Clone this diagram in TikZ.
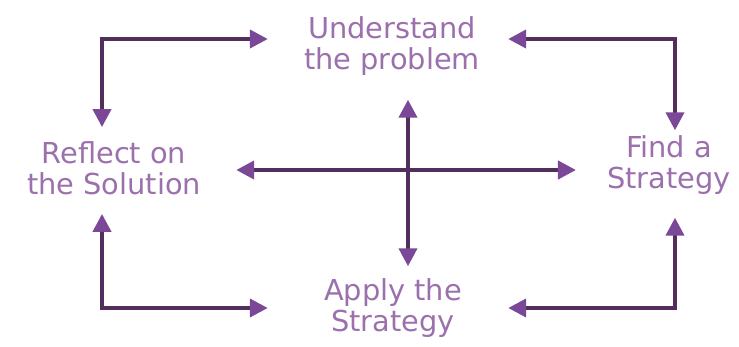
\documentclass[tikz,border=0pt]{standalone}
\usepackage{fontspec}
\setmainfont{DejaVu Sans}
\usetikzlibrary{arrows.meta}
\definecolor{wordlilac}{RGB}{155,112,172}
\definecolor{stemplum}{RGB}{82,46,92}
\definecolor{tipplum}{RGB}{122,72,150}
\tikzset{
  step label/.style={text=wordlilac,align=center,inner sep=0pt,
                     font=\fontsize{20.5}{22}\selectfont},
  flow/.style={{Triangle[length=0.45cm,width=0.45cm,color=tipplum]}-{Triangle[length=0.45cm,width=0.45cm,color=tipplum]},
               draw=stemplum,line width=0.1cm},
}
\begin{document}
\begin{tikzpicture}[x=0.025cm,y=-0.025cm]
  \path[use as bounding box] (0,0) rectangle (739,347);

  \node[step label] (und)   at (392,46)  {Understand\\the problem};
  \node[step label] (refl)  at (114,168) {Reflect on\\the Solution};
  \node[step label] (find)  at (669,165) {Find a\\Strategy};
  \node[step label] (apply) at (393,308) {Apply the\\Strategy};

  % corners of the outer loop and the centre of the cross
  \coordinate (nw) at (102,39);
  \coordinate (ne) at (675,39);
  \coordinate (sw) at (102,308);
  \coordinate (se) at (675,308);
  \coordinate (mid) at (408,170);

  \draw[flow,shorten <=0.9cm,shorten >=0.35cm] (und.west |- nw) -- (nw) -- (refl.north -| nw);
  \draw[flow,shorten <=0.7cm,shorten >=0.125cm] (und.east |- ne) -- (ne) -- (find.north -| ne);
  \draw[flow,shorten <=1.4cm,shorten >=0.475cm] (apply.west |- sw) -- (sw) -- (refl.south -| sw);
  \draw[flow,shorten <=1.15cm,shorten >=0.575cm] (apply.east |- se) -- (se) -- (find.south -| se);

  \draw[flow,shorten <=0.875cm,shorten >=0.775cm] (refl.east |- mid) -- (find.west |- mid);
  \draw[flow,shorten <=0.6cm,shorten >=0.3cm] (und.south -| mid) -- (apply.north -| mid);
\end{tikzpicture}
\end{document}
